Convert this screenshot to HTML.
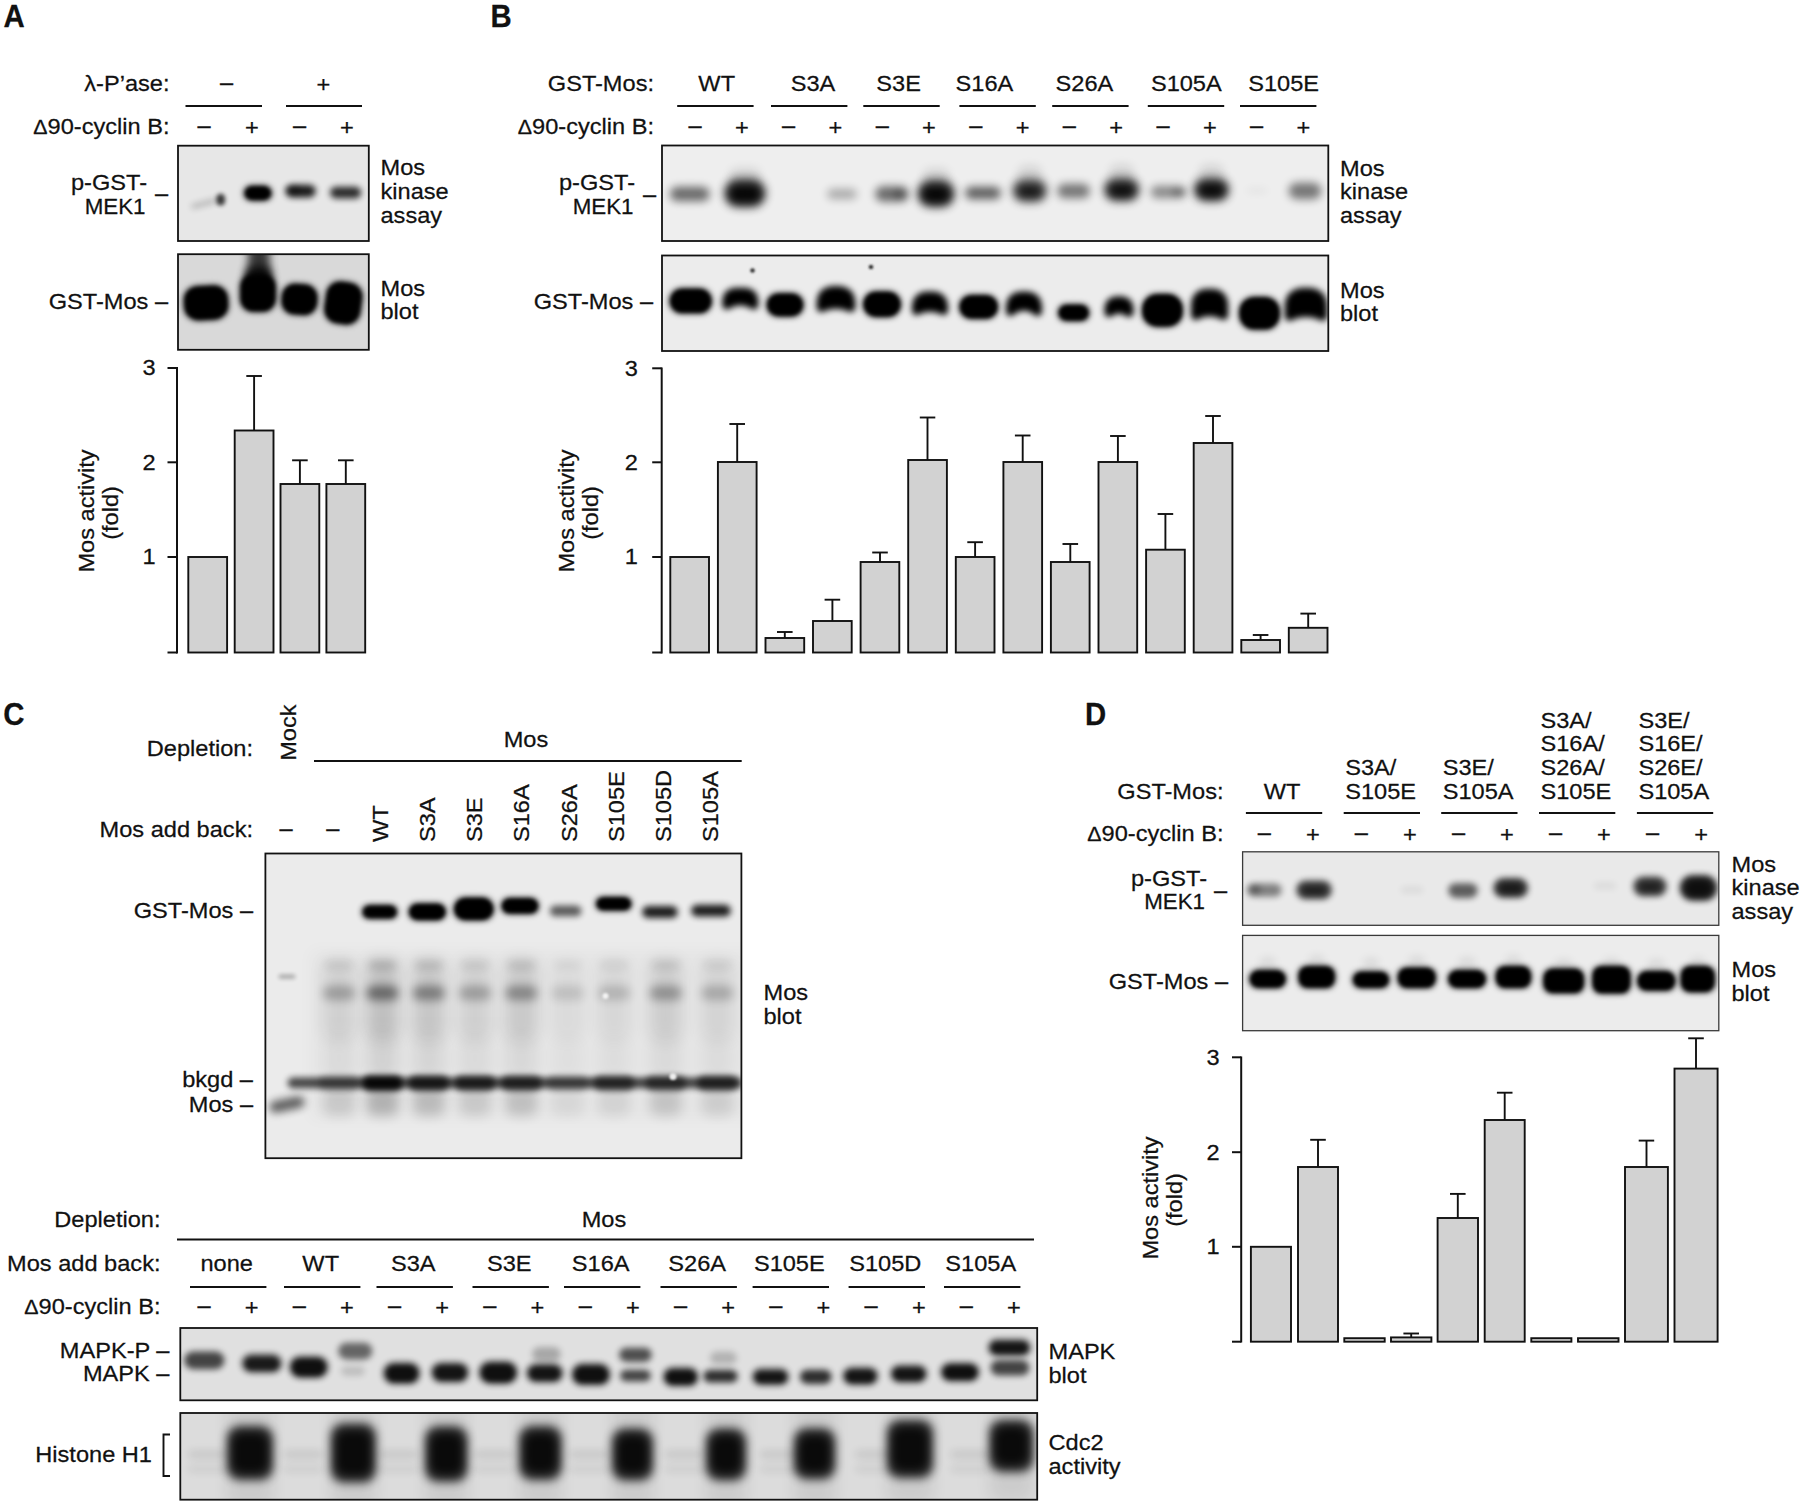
<!DOCTYPE html>
<html lang="en"><head><meta charset="utf-8"><title>Figure</title>
<style>html,body{margin:0;padding:0;background:#fff}svg{display:block}text{font-family:"Liberation Sans",sans-serif;fill:#111;stroke:#111;stroke-width:.25px}</style>
</head><body>
<svg width="1800" height="1506" viewBox="0 0 1800 1506">
<defs>
<filter id="b1" x="-100%" y="-300%" width="300%" height="700%"><feGaussianBlur stdDeviation="1"/></filter>
<filter id="b2" x="-100%" y="-300%" width="300%" height="700%"><feGaussianBlur stdDeviation="2"/></filter>
<filter id="b3" x="-100%" y="-300%" width="300%" height="700%"><feGaussianBlur stdDeviation="3"/></filter>
<filter id="b4" x="-100%" y="-300%" width="300%" height="700%"><feGaussianBlur stdDeviation="4"/></filter>
<filter id="b5" x="-100%" y="-300%" width="300%" height="700%"><feGaussianBlur stdDeviation="5"/></filter>
<filter id="b6" x="-100%" y="-300%" width="300%" height="700%"><feGaussianBlur stdDeviation="6"/></filter>
<filter id="b8" x="-100%" y="-300%" width="300%" height="700%"><feGaussianBlur stdDeviation="8"/></filter>
</defs>
<rect width="1800" height="1506" fill="#fff"/>
<text transform="translate(3.6,26.7) scale(.95,1)" font-size="30.9" font-weight="bold" stroke="#0a0a0a" stroke-width="2.0" stroke-linejoin="round">A</text>
<text transform="translate(169.5,90.5) scale(1.04,1)" font-size="22.7" text-anchor="end">λ-P’ase:</text>
<text transform="translate(169.5,133.5) scale(1.04,1)" font-size="22.7" text-anchor="end"><tspan font-size="20.5">Δ</tspan>90-cyclin B:</text>
<text transform="translate(226.5,90.0) scale(1.04,1)" font-size="22.7" text-anchor="middle">–</text>
<text transform="translate(323.5,92.0) scale(1.04,1)" font-size="22.7" text-anchor="middle">+</text>
<line x1="185.5" y1="106.0" x2="262.0" y2="106.0" stroke="#111" stroke-width="1.9"/>
<line x1="286.0" y1="106.0" x2="362.0" y2="106.0" stroke="#111" stroke-width="1.9"/>
<text transform="translate(204.0,132.5) scale(1.04,1)" font-size="22.7" text-anchor="middle">–</text>
<text transform="translate(252.0,134.5) scale(1.04,1)" font-size="22.7" text-anchor="middle">+</text>
<text transform="translate(299.5,132.5) scale(1.04,1)" font-size="22.7" text-anchor="middle">–</text>
<text transform="translate(347.0,134.5) scale(1.04,1)" font-size="22.7" text-anchor="middle">+</text>
<text transform="translate(147.0,190.0) scale(1.04,1)" font-size="22.7" text-anchor="end">p-GST-</text>
<text transform="translate(145.5,213.5) scale(0.985,1)" font-size="22.7" text-anchor="end">MEK1</text>
<text transform="translate(161.5,201.0) scale(1.04,1)" font-size="22.7" text-anchor="middle">–</text>
<text transform="translate(168.0,309.0) scale(1.04,1)" font-size="22.7" text-anchor="end">GST-Mos –</text>
<text transform="translate(380.5,175.3) scale(1.04,1)" font-size="22.7">Mos</text>
<text transform="translate(380.5,198.8) scale(1.04,1)" font-size="22.7">kinase</text>
<text transform="translate(380.5,222.6) scale(1.04,1)" font-size="22.7">assay</text>
<text transform="translate(380.5,296.3) scale(1.04,1)" font-size="22.7">Mos</text>
<text transform="translate(380.5,319.4) scale(1.04,1)" font-size="22.7">blot</text>
<clipPath id="c1"><rect x="178.0" y="145.7" width="190.8" height="95.3"/></clipPath>
<rect x="178.0" y="145.7" width="190.8" height="95.3" fill="#e7e7e7"/>
<g clip-path="url(#c1)">
<rect x="190.7" y="201.2" width="26.7" height="4.7" rx="2.3" fill="#000" opacity="0.22" filter="url(#b3)" transform="rotate(-15 204.0 203.5)"/>
<rect x="216.3" y="193.7" width="8.8" height="11.8" rx="4.4" fill="#000" opacity="0.75" filter="url(#b2)"/>
<rect x="243.8" y="185.8" width="28.1" height="14.7" rx="7.3" fill="#000" opacity="1" filter="url(#b3)"/>
<rect x="245.8" y="187.3" width="24.1" height="11.7" rx="5.8" fill="#000" opacity="1" filter="url(#b2)"/>
<rect x="285.5" y="184.7" width="30.2" height="12.7" rx="6.3" fill="#000" opacity="0.88" filter="url(#b3)"/>
<rect x="287.6" y="187.2" width="12.7" height="5.7" rx="2.8" fill="#000" opacity="0.4" filter="url(#b3)"/>
<rect x="330.0" y="186.7" width="31.2" height="11.7" rx="5.8" fill="#000" opacity="0.82" filter="url(#b3)"/>
</g>
<rect x="178.0" y="145.7" width="190.8" height="95.3" fill="none" stroke="#111" stroke-width="1.8"/>
<clipPath id="c2"><rect x="178.0" y="254.2" width="190.8" height="95.6"/></clipPath>
<rect x="178.0" y="254.2" width="190.8" height="95.6" fill="#d9d9d9"/>
<g clip-path="url(#c2)">
<rect x="183.7" y="285.7" width="44.7" height="34.2" rx="14.0" fill="#000" opacity="1" filter="url(#b3)" transform="rotate(-3 206.0 302.8)"/>
<rect x="185.7" y="287.2" width="40.7" height="31.2" rx="12.5" fill="#000" opacity="1" filter="url(#b2)" transform="rotate(-3 206.0 302.8)"/>
<rect x="248.1" y="244.2" width="21.6" height="35.6" rx="6.0" fill="#000" opacity="0.75" filter="url(#b4)"/>
<rect x="244.7" y="266.2" width="27.6" height="19.6" rx="8.0" fill="#000" opacity="0.8" filter="url(#b4)"/>
<rect x="239.9" y="274.1" width="36.2" height="37.7" rx="13.0" fill="#000" opacity="1" filter="url(#b3)"/>
<rect x="241.9" y="275.6" width="32.2" height="34.7" rx="11.5" fill="#000" opacity="1" filter="url(#b2)"/>
<rect x="281.4" y="284.1" width="36.2" height="30.7" rx="13.0" fill="#000" opacity="1" filter="url(#b3)" transform="rotate(4 299.5 299.5)"/>
<rect x="283.4" y="285.6" width="32.2" height="27.7" rx="11.5" fill="#000" opacity="1" filter="url(#b2)" transform="rotate(4 299.5 299.5)"/>
<rect x="325.0" y="281.9" width="36.7" height="42.2" rx="14.0" fill="#000" opacity="1" filter="url(#b3)" transform="rotate(8 343.4 303.0)"/>
<rect x="327.0" y="283.4" width="32.7" height="39.2" rx="12.5" fill="#000" opacity="1" filter="url(#b2)" transform="rotate(8 343.4 303.0)"/>
</g>
<rect x="178.0" y="254.2" width="190.8" height="95.6" fill="none" stroke="#111" stroke-width="1.8"/>
<line x1="177.0" y1="367.1" x2="177.0" y2="653.4" stroke="#111" stroke-width="2.0"/>
<line x1="167.5" y1="368.0" x2="177.0" y2="368.0" stroke="#111" stroke-width="2.0"/>
<text transform="translate(155.5,375.4) scale(1.04,1)" font-size="22.7" text-anchor="end">3</text>
<line x1="167.5" y1="462.3" x2="177.0" y2="462.3" stroke="#111" stroke-width="2.0"/>
<text transform="translate(155.5,469.7) scale(1.04,1)" font-size="22.7" text-anchor="end">2</text>
<line x1="167.5" y1="557.0" x2="177.0" y2="557.0" stroke="#111" stroke-width="2.0"/>
<text transform="translate(155.5,564.4) scale(1.04,1)" font-size="22.7" text-anchor="end">1</text>
<line x1="167.5" y1="652.5" x2="177.0" y2="652.5" stroke="#111" stroke-width="2.0"/>
<rect x="188.3" y="557.0" width="38.8" height="95.5" fill="#d2d2d2" stroke="#111" stroke-width="1.9"/>
<line x1="254.1" y1="376.0" x2="254.1" y2="430.5" stroke="#111" stroke-width="1.9"/>
<line x1="246.3" y1="376.0" x2="261.9" y2="376.0" stroke="#111" stroke-width="1.9"/>
<rect x="234.7" y="430.5" width="38.8" height="222.0" fill="#d2d2d2" stroke="#111" stroke-width="1.9"/>
<line x1="299.9" y1="460.3" x2="299.9" y2="484.0" stroke="#111" stroke-width="1.9"/>
<line x1="292.1" y1="460.3" x2="307.7" y2="460.3" stroke="#111" stroke-width="1.9"/>
<rect x="280.5" y="484.0" width="38.8" height="168.5" fill="#d2d2d2" stroke="#111" stroke-width="1.9"/>
<line x1="345.8" y1="460.3" x2="345.8" y2="484.0" stroke="#111" stroke-width="1.9"/>
<line x1="338.0" y1="460.3" x2="353.6" y2="460.3" stroke="#111" stroke-width="1.9"/>
<rect x="326.4" y="484.0" width="38.8" height="168.5" fill="#d2d2d2" stroke="#111" stroke-width="1.9"/>
<text transform="translate(94.0,511.0) rotate(-90) scale(1.04,1)" font-size="22.7" text-anchor="middle">Mos activity</text>
<text transform="translate(117.5,513.0) rotate(-90) scale(1.04,1)" font-size="22.7" text-anchor="middle">(fold)</text>
<text transform="translate(490.6,26.5) scale(.95,1)" font-size="30.9" font-weight="bold" stroke="#0a0a0a" stroke-width="2.0" stroke-linejoin="round">B</text>
<text transform="translate(654.0,90.5) scale(1.04,1)" font-size="22.7" text-anchor="end">GST-Mos:</text>
<text transform="translate(654.0,133.5) scale(1.04,1)" font-size="22.7" text-anchor="end"><tspan font-size="20.5">Δ</tspan>90-cyclin B:</text>
<line x1="677.2" y1="106.0" x2="753.6" y2="106.0" stroke="#111" stroke-width="1.9"/>
<text transform="translate(716.7,90.5) scale(1.04,1)" font-size="22.7" text-anchor="middle">WT</text>
<line x1="771.0" y1="106.0" x2="847.4" y2="106.0" stroke="#111" stroke-width="1.9"/>
<text transform="translate(813.0,90.5) scale(1.04,1)" font-size="22.7" text-anchor="middle">S3A</text>
<line x1="863.3" y1="106.0" x2="939.7" y2="106.0" stroke="#111" stroke-width="1.9"/>
<text transform="translate(898.6,90.5) scale(1.04,1)" font-size="22.7" text-anchor="middle">S3E</text>
<line x1="959.4" y1="106.0" x2="1035.8" y2="106.0" stroke="#111" stroke-width="1.9"/>
<text transform="translate(984.4,90.5) scale(1.04,1)" font-size="22.7" text-anchor="middle">S16A</text>
<line x1="1052.2" y1="106.0" x2="1128.6" y2="106.0" stroke="#111" stroke-width="1.9"/>
<text transform="translate(1084.4,90.5) scale(1.04,1)" font-size="22.7" text-anchor="middle">S26A</text>
<line x1="1147.8" y1="106.0" x2="1224.2" y2="106.0" stroke="#111" stroke-width="1.9"/>
<text transform="translate(1186.3,90.5) scale(1.04,1)" font-size="22.7" text-anchor="middle">S105A</text>
<line x1="1240.0" y1="106.0" x2="1316.4" y2="106.0" stroke="#111" stroke-width="1.9"/>
<text transform="translate(1283.6,90.5) scale(1.04,1)" font-size="22.7" text-anchor="middle">S105E</text>
<text transform="translate(695.0,132.5) scale(1.04,1)" font-size="22.7" text-anchor="middle">–</text>
<text transform="translate(741.8,134.5) scale(1.04,1)" font-size="22.7" text-anchor="middle">+</text>
<text transform="translate(788.6,132.5) scale(1.04,1)" font-size="22.7" text-anchor="middle">–</text>
<text transform="translate(835.4,134.5) scale(1.04,1)" font-size="22.7" text-anchor="middle">+</text>
<text transform="translate(882.2,132.5) scale(1.04,1)" font-size="22.7" text-anchor="middle">–</text>
<text transform="translate(929.0,134.5) scale(1.04,1)" font-size="22.7" text-anchor="middle">+</text>
<text transform="translate(975.8,132.5) scale(1.04,1)" font-size="22.7" text-anchor="middle">–</text>
<text transform="translate(1022.6,134.5) scale(1.04,1)" font-size="22.7" text-anchor="middle">+</text>
<text transform="translate(1069.4,132.5) scale(1.04,1)" font-size="22.7" text-anchor="middle">–</text>
<text transform="translate(1116.2,134.5) scale(1.04,1)" font-size="22.7" text-anchor="middle">+</text>
<text transform="translate(1163.0,132.5) scale(1.04,1)" font-size="22.7" text-anchor="middle">–</text>
<text transform="translate(1209.8,134.5) scale(1.04,1)" font-size="22.7" text-anchor="middle">+</text>
<text transform="translate(1256.6,132.5) scale(1.04,1)" font-size="22.7" text-anchor="middle">–</text>
<text transform="translate(1303.4,134.5) scale(1.04,1)" font-size="22.7" text-anchor="middle">+</text>
<text transform="translate(635.0,190.0) scale(1.04,1)" font-size="22.7" text-anchor="end">p-GST-</text>
<text transform="translate(633.5,213.5) scale(0.985,1)" font-size="22.7" text-anchor="end">MEK1</text>
<text transform="translate(649.5,201.5) scale(1.04,1)" font-size="22.7" text-anchor="middle">–</text>
<text transform="translate(653.0,309.0) scale(1.04,1)" font-size="22.7" text-anchor="end">GST-Mos –</text>
<text transform="translate(1340.0,175.5) scale(1.04,1)" font-size="22.7">Mos</text>
<text transform="translate(1340.0,198.9) scale(1.04,1)" font-size="22.7">kinase</text>
<text transform="translate(1340.0,222.8) scale(1.04,1)" font-size="22.7">assay</text>
<text transform="translate(1340.0,298.3) scale(1.04,1)" font-size="22.7">Mos</text>
<text transform="translate(1340.0,321.4) scale(1.04,1)" font-size="22.7">blot</text>
<clipPath id="c3"><rect x="662.0" y="145.5" width="666.3" height="95.5"/></clipPath>
<rect x="662.0" y="145.5" width="666.3" height="95.5" fill="#eeeeee"/>
<g clip-path="url(#c3)">
<rect x="670.0" y="186.7" width="39.6" height="14.6" rx="7.3" fill="#000" opacity="0.55" filter="url(#b4)"/>
<rect x="724.2" y="178.8" width="41.5" height="28.5" rx="14.2" fill="#000" opacity="0.78" filter="url(#b5)"/>
<rect x="729.7" y="186.2" width="30.6" height="15.6" rx="7.8" fill="#000" opacity="0.9" filter="url(#b4)"/>
<rect x="729.2" y="167.8" width="31.5" height="16.5" rx="8.2" fill="#000" opacity="0.1" filter="url(#b5)"/>
<rect x="827.2" y="188.7" width="29.6" height="10.6" rx="5.3" fill="#000" opacity="0.28" filter="url(#b4)"/>
<rect x="875.2" y="186.2" width="33.6" height="15.6" rx="7.8" fill="#000" opacity="0.55" filter="url(#b4)"/>
<rect x="917.5" y="179.8" width="37.1" height="27.5" rx="13.8" fill="#000" opacity="0.78" filter="url(#b5)"/>
<rect x="922.9" y="187.2" width="26.2" height="14.6" rx="7.3" fill="#000" opacity="0.9" filter="url(#b4)"/>
<rect x="922.5" y="168.2" width="27.1" height="16.5" rx="8.2" fill="#000" opacity="0.1" filter="url(#b5)"/>
<rect x="965.2" y="186.7" width="35.6" height="12.6" rx="6.3" fill="#000" opacity="0.6" filter="url(#b4)"/>
<rect x="1012.5" y="178.8" width="34.5" height="23.5" rx="11.8" fill="#000" opacity="0.663" filter="url(#b5)"/>
<rect x="1017.9" y="186.2" width="23.6" height="10.6" rx="5.3" fill="#000" opacity="0.765" filter="url(#b4)"/>
<rect x="1017.5" y="165.2" width="24.5" height="16.5" rx="8.2" fill="#000" opacity="0.1" filter="url(#b5)"/>
<rect x="1057.3" y="183.7" width="32.6" height="14.6" rx="7.3" fill="#000" opacity="0.5" filter="url(#b4)"/>
<rect x="1104.1" y="177.8" width="35.2" height="23.5" rx="11.8" fill="#000" opacity="0.741" filter="url(#b5)"/>
<rect x="1109.5" y="185.3" width="24.3" height="10.6" rx="5.3" fill="#000" opacity="0.855" filter="url(#b4)"/>
<rect x="1109.1" y="164.3" width="25.2" height="16.5" rx="8.2" fill="#000" opacity="0.1" filter="url(#b5)"/>
<rect x="1150.8" y="185.7" width="35.3" height="12.6" rx="6.3" fill="#000" opacity="0.42" filter="url(#b4)"/>
<rect x="1193.9" y="177.8" width="35.2" height="23.5" rx="11.8" fill="#000" opacity="0.78" filter="url(#b5)"/>
<rect x="1199.3" y="185.3" width="24.3" height="10.6" rx="5.3" fill="#000" opacity="0.9" filter="url(#b4)"/>
<rect x="1198.9" y="164.3" width="25.2" height="16.5" rx="8.2" fill="#000" opacity="0.1" filter="url(#b5)"/>
<rect x="1246.7" y="188.8" width="20.6" height="3.6" rx="1.8" fill="#000" opacity="0.07" filter="url(#b4)"/>
<rect x="1288.7" y="182.7" width="32.6" height="16.6" rx="8.3" fill="#000" opacity="0.5" filter="url(#b4)"/>
<rect x="892.6" y="189.7" width="12.7" height="8.7" rx="4.3" fill="#000" opacity="0.2" filter="url(#b3)"/>
<rect x="1171.7" y="188.7" width="12.7" height="6.7" rx="3.3" fill="#000" opacity="0.2" filter="url(#b3)"/>
</g>
<rect x="662.0" y="145.5" width="666.3" height="95.5" fill="none" stroke="#111" stroke-width="1.8"/>
<clipPath id="c4"><rect x="662.0" y="255.5" width="666.3" height="95.5"/></clipPath>
<rect x="662.0" y="255.5" width="666.3" height="95.5" fill="#ececec"/>
<g clip-path="url(#c4)">
<rect x="669.4" y="288.6" width="42.7" height="24.7" rx="12.3" fill="#000" opacity="1" filter="url(#b3)"/>
<rect x="671.4" y="290.1" width="38.7" height="21.7" rx="10.8" fill="#000" opacity="1" filter="url(#b2)"/>
<path d="M726.7,305.0 L726.7,302.4 Q726.7,292.2 736.9,292.2 L743.7,292.2 Q753.9,292.2 753.9,302.4 L753.9,305.0 Q740.3,296.2 726.7,305.0 Z" fill="#000" stroke="#000" stroke-width="9.0" stroke-linejoin="round" opacity="1" filter="url(#b3)"/>
<rect x="766.4" y="293.2" width="37.3" height="23.2" rx="11.6" fill="#000" opacity="1" filter="url(#b3)"/>
<rect x="768.4" y="294.7" width="33.3" height="20.2" rx="10.1" fill="#000" opacity="1" filter="url(#b2)"/>
<path d="M821.1,307.6 L821.1,303.8 Q821.1,290.4 834.5,290.4 L837.5,290.4 Q850.9,290.4 850.9,303.8 L850.9,307.6 Q836.0,301.0 821.1,307.6 Z" fill="#000" stroke="#000" stroke-width="9.0" stroke-linejoin="round" opacity="1" filter="url(#b3)"/>
<rect x="862.9" y="291.4" width="38.2" height="25.7" rx="12.8" fill="#000" opacity="1" filter="url(#b3)"/>
<rect x="864.9" y="292.9" width="34.2" height="22.7" rx="11.3" fill="#000" opacity="1" filter="url(#b2)"/>
<path d="M916.4,310.6 L916.4,307.7 Q916.4,296.0 928.1,296.0 L931.9,296.0 Q943.6,296.0 943.6,307.7 L943.6,310.6 Q930.0,303.6 916.4,310.6 Z" fill="#000" stroke="#000" stroke-width="9.0" stroke-linejoin="round" opacity="1" filter="url(#b3)"/>
<rect x="959.1" y="295.1" width="39.2" height="23.7" rx="11.8" fill="#000" opacity="1" filter="url(#b3)"/>
<rect x="961.1" y="296.6" width="35.2" height="20.7" rx="10.3" fill="#000" opacity="1" filter="url(#b2)"/>
<path d="M1010.4,311.6 L1010.4,308.2 Q1010.4,296.0 1022.6,296.0 L1025.4,296.0 Q1037.6,296.0 1037.6,308.2 L1037.6,311.6 Q1024.0,300.8 1010.4,311.6 Z" fill="#000" stroke="#000" stroke-width="9.0" stroke-linejoin="round" opacity="1" filter="url(#b3)"/>
<rect x="1057.8" y="304.4" width="31.7" height="16.7" rx="8.3" fill="#000" opacity="1" filter="url(#b3)"/>
<rect x="1059.8" y="305.9" width="27.7" height="13.7" rx="6.8" fill="#000" opacity="1" filter="url(#b2)"/>
<path d="M1108.9,312.6 L1108.9,309.8 Q1108.9,300.7 1118.0,300.7 L1120.0,300.7 Q1129.1,300.7 1129.1,309.8 L1129.1,312.6 Q1119.0,305.4 1108.9,312.6 Z" fill="#000" stroke="#000" stroke-width="9.0" stroke-linejoin="round" opacity="1" filter="url(#b3)"/>
<rect x="1141.9" y="294.0" width="41.1" height="32.7" rx="15.0" fill="#000" opacity="1" filter="url(#b3)"/>
<rect x="1143.9" y="295.5" width="37.1" height="29.7" rx="13.5" fill="#000" opacity="1" filter="url(#b2)"/>
<path d="M1195.5,315.4 L1195.5,305.9 Q1195.5,293.2 1208.2,293.2 L1211.0,293.2 Q1223.7,293.2 1223.7,305.9 L1223.7,315.4 Q1209.6,308.2 1195.5,315.4 Z" fill="#000" stroke="#000" stroke-width="9.0" stroke-linejoin="round" opacity="1" filter="url(#b3)"/>
<rect x="1239.0" y="296.9" width="41.1" height="32.7" rx="15.0" fill="#000" opacity="1" filter="url(#b3)"/>
<rect x="1241.0" y="298.4" width="37.1" height="29.7" rx="13.5" fill="#000" opacity="1" filter="url(#b2)"/>
<path d="M1289.2,316.4 L1289.2,307.4 Q1289.2,292.2 1304.3,292.2 L1307.7,292.2 Q1322.8,292.2 1322.8,307.4 L1322.8,316.4 Q1306.0,308.8 1289.2,316.4 Z" fill="#000" stroke="#000" stroke-width="9.0" stroke-linejoin="round" opacity="1" filter="url(#b3)"/>
<circle cx="752.5" cy="270.5" r="2.3" fill="#333" filter="url(#b1)"/><circle cx="871" cy="267" r="2.3" fill="#333" filter="url(#b1)"/>
</g>
<rect x="662.0" y="255.5" width="666.3" height="95.5" fill="none" stroke="#111" stroke-width="1.8"/>
<line x1="661.7" y1="367.4" x2="661.7" y2="653.4" stroke="#111" stroke-width="2.0"/>
<line x1="652.2" y1="368.3" x2="661.7" y2="368.3" stroke="#111" stroke-width="2.0"/>
<text transform="translate(637.9,375.7) scale(1.04,1)" font-size="22.7" text-anchor="end">3</text>
<line x1="652.2" y1="462.3" x2="661.7" y2="462.3" stroke="#111" stroke-width="2.0"/>
<text transform="translate(637.9,469.7) scale(1.04,1)" font-size="22.7" text-anchor="end">2</text>
<line x1="652.2" y1="557.0" x2="661.7" y2="557.0" stroke="#111" stroke-width="2.0"/>
<text transform="translate(637.9,564.4) scale(1.04,1)" font-size="22.7" text-anchor="end">1</text>
<line x1="652.2" y1="652.5" x2="661.7" y2="652.5" stroke="#111" stroke-width="2.0"/>
<rect x="670.3" y="557.0" width="38.7" height="95.5" fill="#d2d2d2" stroke="#111" stroke-width="1.9"/>
<line x1="737.2" y1="424.0" x2="737.2" y2="462.0" stroke="#111" stroke-width="1.9"/>
<line x1="729.4" y1="424.0" x2="745.0" y2="424.0" stroke="#111" stroke-width="1.9"/>
<rect x="717.9" y="462.0" width="38.7" height="190.5" fill="#d2d2d2" stroke="#111" stroke-width="1.9"/>
<line x1="784.8" y1="632.0" x2="784.8" y2="638.0" stroke="#111" stroke-width="1.9"/>
<line x1="777.0" y1="632.0" x2="792.6" y2="632.0" stroke="#111" stroke-width="1.9"/>
<rect x="765.5" y="638.0" width="38.7" height="14.5" fill="#d2d2d2" stroke="#111" stroke-width="1.9"/>
<line x1="832.4" y1="599.7" x2="832.4" y2="621.0" stroke="#111" stroke-width="1.9"/>
<line x1="824.6" y1="599.7" x2="840.2" y2="599.7" stroke="#111" stroke-width="1.9"/>
<rect x="813.0" y="621.0" width="38.7" height="31.5" fill="#d2d2d2" stroke="#111" stroke-width="1.9"/>
<line x1="880.0" y1="552.5" x2="880.0" y2="562.0" stroke="#111" stroke-width="1.9"/>
<line x1="872.2" y1="552.5" x2="887.8" y2="552.5" stroke="#111" stroke-width="1.9"/>
<rect x="860.6" y="562.0" width="38.7" height="90.5" fill="#d2d2d2" stroke="#111" stroke-width="1.9"/>
<line x1="927.5" y1="417.5" x2="927.5" y2="460.0" stroke="#111" stroke-width="1.9"/>
<line x1="919.8" y1="417.5" x2="935.3" y2="417.5" stroke="#111" stroke-width="1.9"/>
<rect x="908.2" y="460.0" width="38.7" height="192.5" fill="#d2d2d2" stroke="#111" stroke-width="1.9"/>
<line x1="975.1" y1="542.2" x2="975.1" y2="557.0" stroke="#111" stroke-width="1.9"/>
<line x1="967.3" y1="542.2" x2="982.9" y2="542.2" stroke="#111" stroke-width="1.9"/>
<rect x="955.8" y="557.0" width="38.7" height="95.5" fill="#d2d2d2" stroke="#111" stroke-width="1.9"/>
<line x1="1022.7" y1="435.5" x2="1022.7" y2="462.0" stroke="#111" stroke-width="1.9"/>
<line x1="1014.9" y1="435.5" x2="1030.5" y2="435.5" stroke="#111" stroke-width="1.9"/>
<rect x="1003.4" y="462.0" width="38.7" height="190.5" fill="#d2d2d2" stroke="#111" stroke-width="1.9"/>
<line x1="1070.3" y1="544.0" x2="1070.3" y2="562.0" stroke="#111" stroke-width="1.9"/>
<line x1="1062.5" y1="544.0" x2="1078.1" y2="544.0" stroke="#111" stroke-width="1.9"/>
<rect x="1050.9" y="562.0" width="38.7" height="90.5" fill="#d2d2d2" stroke="#111" stroke-width="1.9"/>
<line x1="1117.9" y1="436.0" x2="1117.9" y2="462.0" stroke="#111" stroke-width="1.9"/>
<line x1="1110.1" y1="436.0" x2="1125.7" y2="436.0" stroke="#111" stroke-width="1.9"/>
<rect x="1098.5" y="462.0" width="38.7" height="190.5" fill="#d2d2d2" stroke="#111" stroke-width="1.9"/>
<line x1="1165.4" y1="514.0" x2="1165.4" y2="549.7" stroke="#111" stroke-width="1.9"/>
<line x1="1157.6" y1="514.0" x2="1173.2" y2="514.0" stroke="#111" stroke-width="1.9"/>
<rect x="1146.1" y="549.7" width="38.7" height="102.8" fill="#d2d2d2" stroke="#111" stroke-width="1.9"/>
<line x1="1213.0" y1="416.0" x2="1213.0" y2="443.0" stroke="#111" stroke-width="1.9"/>
<line x1="1205.2" y1="416.0" x2="1220.8" y2="416.0" stroke="#111" stroke-width="1.9"/>
<rect x="1193.7" y="443.0" width="38.7" height="209.5" fill="#d2d2d2" stroke="#111" stroke-width="1.9"/>
<line x1="1260.6" y1="635.0" x2="1260.6" y2="640.0" stroke="#111" stroke-width="1.9"/>
<line x1="1252.8" y1="635.0" x2="1268.4" y2="635.0" stroke="#111" stroke-width="1.9"/>
<rect x="1241.3" y="640.0" width="38.7" height="12.5" fill="#d2d2d2" stroke="#111" stroke-width="1.9"/>
<line x1="1308.2" y1="613.6" x2="1308.2" y2="627.8" stroke="#111" stroke-width="1.9"/>
<line x1="1300.4" y1="613.6" x2="1316.0" y2="613.6" stroke="#111" stroke-width="1.9"/>
<rect x="1288.8" y="627.8" width="38.7" height="24.7" fill="#d2d2d2" stroke="#111" stroke-width="1.9"/>
<text transform="translate(574.0,511.0) rotate(-90) scale(1.04,1)" font-size="22.7" text-anchor="middle">Mos activity</text>
<text transform="translate(598.0,513.0) rotate(-90) scale(1.04,1)" font-size="22.7" text-anchor="middle">(fold)</text>
<text transform="translate(3.3,725.1) scale(.95,1)" font-size="30.9" font-weight="bold" stroke="#0a0a0a" stroke-width="2.0" stroke-linejoin="round">C</text>
<text transform="translate(253.0,756.0) scale(1.04,1)" font-size="22.7" text-anchor="end">Depletion:</text>
<text transform="translate(253.0,836.5) scale(1.04,1)" font-size="22.7" text-anchor="end">Mos add back:</text>
<text transform="translate(295.5,760.8) rotate(-90) scale(1.04,1)" font-size="22.7">Mock</text>
<line x1="314.0" y1="761.0" x2="741.7" y2="761.0" stroke="#111" stroke-width="1.9"/>
<text transform="translate(526.0,746.5) scale(1.04,1)" font-size="22.7" text-anchor="middle">Mos</text>
<text transform="translate(286.0,836.0) scale(1.04,1)" font-size="22.7" text-anchor="middle">–</text>
<text transform="translate(332.8,836.0) scale(1.04,1)" font-size="22.7" text-anchor="middle">–</text>
<text transform="translate(387.5,842.0) rotate(-90) scale(1.04,1)" font-size="22.7">WT</text>
<text transform="translate(434.5,842.0) rotate(-90) scale(1.04,1)" font-size="22.7">S3A</text>
<text transform="translate(482.1,842.0) rotate(-90) scale(1.04,1)" font-size="22.7">S3E</text>
<text transform="translate(529.3,842.0) rotate(-90) scale(1.04,1)" font-size="22.7">S16A</text>
<text transform="translate(576.5,842.0) rotate(-90) scale(1.04,1)" font-size="22.7">S26A</text>
<text transform="translate(623.5,842.0) rotate(-90) scale(1.04,1)" font-size="22.7">S105E</text>
<text transform="translate(671.0,842.0) rotate(-90) scale(1.04,1)" font-size="22.7">S105D</text>
<text transform="translate(718.2,842.0) rotate(-90) scale(1.04,1)" font-size="22.7">S105A</text>
<text transform="translate(253.0,917.8) scale(1.04,1)" font-size="22.7" text-anchor="end">GST-Mos –</text>
<text transform="translate(253.0,1086.8) scale(1.04,1)" font-size="22.7" text-anchor="end">bkgd –</text>
<text transform="translate(253.0,1111.7) scale(1.04,1)" font-size="22.7" text-anchor="end">Mos –</text>
<text transform="translate(763.5,1000.0) scale(1.04,1)" font-size="22.7">Mos</text>
<text transform="translate(763.5,1023.5) scale(1.04,1)" font-size="22.7">blot</text>
<clipPath id="c5"><rect x="265.4" y="853.5" width="476.0" height="304.7"/></clipPath>
<rect x="265.4" y="853.5" width="476.0" height="304.7" fill="#ebebeb"/>
<g clip-path="url(#c5)">
<rect x="310" y="950" width="440" height="170" fill="#000" opacity=".022" filter="url(#b8)"/>
<rect x="323.4" y="959.4" width="31.2" height="81.2" rx="8.0" fill="#000" opacity="0.09" filter="url(#b8)"/>
<rect x="322.8" y="985.8" width="32.5" height="14.5" rx="7.2" fill="#000" opacity="0.255" filter="url(#b5)"/>
<rect x="325.2" y="961.2" width="27.6" height="7.6" rx="3.8" fill="#000" opacity="0.09" filter="url(#b4)"/>
<rect x="325.4" y="1037.4" width="27.2" height="41.2" rx="8.0" fill="#000" opacity="0.045" filter="url(#b8)"/>
<rect x="323.3" y="1088.3" width="31.4" height="27.4" rx="8.0" fill="#000" opacity="0.12" filter="url(#b6)"/>
<rect x="366.9" y="959.4" width="31.2" height="81.2" rx="8.0" fill="#000" opacity="0.165" filter="url(#b8)"/>
<rect x="366.2" y="985.8" width="32.5" height="14.5" rx="7.2" fill="#000" opacity="0.4675" filter="url(#b5)"/>
<rect x="368.7" y="961.2" width="27.6" height="7.6" rx="3.8" fill="#000" opacity="0.165" filter="url(#b4)"/>
<rect x="368.9" y="1037.4" width="27.2" height="41.2" rx="8.0" fill="#000" opacity="0.0825" filter="url(#b8)"/>
<rect x="366.8" y="1088.3" width="31.4" height="27.4" rx="8.0" fill="#000" opacity="0.22000000000000003" filter="url(#b6)"/>
<rect x="413.2" y="959.4" width="31.2" height="81.2" rx="8.0" fill="#000" opacity="0.135" filter="url(#b8)"/>
<rect x="412.6" y="985.8" width="32.5" height="14.5" rx="7.2" fill="#000" opacity="0.3825" filter="url(#b5)"/>
<rect x="415.0" y="961.2" width="27.6" height="7.6" rx="3.8" fill="#000" opacity="0.135" filter="url(#b4)"/>
<rect x="415.2" y="1037.4" width="27.2" height="41.2" rx="8.0" fill="#000" opacity="0.0675" filter="url(#b8)"/>
<rect x="413.1" y="1088.3" width="31.4" height="27.4" rx="8.0" fill="#000" opacity="0.18000000000000002" filter="url(#b6)"/>
<rect x="459.4" y="959.4" width="31.2" height="81.2" rx="8.0" fill="#000" opacity="0.09" filter="url(#b8)"/>
<rect x="458.8" y="985.8" width="32.5" height="14.5" rx="7.2" fill="#000" opacity="0.255" filter="url(#b5)"/>
<rect x="461.2" y="961.2" width="27.6" height="7.6" rx="3.8" fill="#000" opacity="0.09" filter="url(#b4)"/>
<rect x="461.4" y="1037.4" width="27.2" height="41.2" rx="8.0" fill="#000" opacity="0.045" filter="url(#b8)"/>
<rect x="459.3" y="1088.3" width="31.4" height="27.4" rx="8.0" fill="#000" opacity="0.12" filter="url(#b6)"/>
<rect x="505.8" y="959.4" width="31.2" height="81.2" rx="8.0" fill="#000" opacity="0.12" filter="url(#b8)"/>
<rect x="505.1" y="985.8" width="32.5" height="14.5" rx="7.2" fill="#000" opacity="0.34" filter="url(#b5)"/>
<rect x="507.6" y="961.2" width="27.6" height="7.6" rx="3.8" fill="#000" opacity="0.12" filter="url(#b4)"/>
<rect x="507.8" y="1037.4" width="27.2" height="41.2" rx="8.0" fill="#000" opacity="0.06" filter="url(#b8)"/>
<rect x="505.7" y="1088.3" width="31.4" height="27.4" rx="8.0" fill="#000" opacity="0.16000000000000003" filter="url(#b6)"/>
<rect x="552.0" y="959.4" width="31.2" height="81.2" rx="8.0" fill="#000" opacity="0.045" filter="url(#b8)"/>
<rect x="551.4" y="985.8" width="32.5" height="14.5" rx="7.2" fill="#000" opacity="0.1275" filter="url(#b5)"/>
<rect x="553.8" y="961.2" width="27.6" height="7.6" rx="3.8" fill="#000" opacity="0.045" filter="url(#b4)"/>
<rect x="554.0" y="1037.4" width="27.2" height="41.2" rx="8.0" fill="#000" opacity="0.0225" filter="url(#b8)"/>
<rect x="551.9" y="1088.3" width="31.4" height="27.4" rx="8.0" fill="#000" opacity="0.06" filter="url(#b6)"/>
<rect x="598.4" y="959.4" width="31.2" height="81.2" rx="8.0" fill="#000" opacity="0.06" filter="url(#b8)"/>
<rect x="597.8" y="985.8" width="32.5" height="14.5" rx="7.2" fill="#000" opacity="0.17" filter="url(#b5)"/>
<rect x="600.2" y="961.2" width="27.6" height="7.6" rx="3.8" fill="#000" opacity="0.06" filter="url(#b4)"/>
<rect x="600.4" y="1037.4" width="27.2" height="41.2" rx="8.0" fill="#000" opacity="0.03" filter="url(#b8)"/>
<rect x="598.3" y="1088.3" width="31.4" height="27.4" rx="8.0" fill="#000" opacity="0.08000000000000002" filter="url(#b6)"/>
<rect x="650.1" y="959.4" width="31.2" height="81.2" rx="8.0" fill="#000" opacity="0.105" filter="url(#b8)"/>
<rect x="649.5" y="985.8" width="32.5" height="14.5" rx="7.2" fill="#000" opacity="0.2975" filter="url(#b5)"/>
<rect x="651.9" y="961.2" width="27.6" height="7.6" rx="3.8" fill="#000" opacity="0.105" filter="url(#b4)"/>
<rect x="652.1" y="1037.4" width="27.2" height="41.2" rx="8.0" fill="#000" opacity="0.0525" filter="url(#b8)"/>
<rect x="650.0" y="1088.3" width="31.4" height="27.4" rx="8.0" fill="#000" opacity="0.13999999999999999" filter="url(#b6)"/>
<rect x="701.8" y="959.4" width="31.2" height="81.2" rx="8.0" fill="#000" opacity="0.075" filter="url(#b8)"/>
<rect x="701.1" y="985.8" width="32.5" height="14.5" rx="7.2" fill="#000" opacity="0.2125" filter="url(#b5)"/>
<rect x="703.6" y="961.2" width="27.6" height="7.6" rx="3.8" fill="#000" opacity="0.075" filter="url(#b4)"/>
<rect x="703.8" y="1037.4" width="27.2" height="41.2" rx="8.0" fill="#000" opacity="0.0375" filter="url(#b8)"/>
<rect x="701.7" y="1088.3" width="31.4" height="27.4" rx="8.0" fill="#000" opacity="0.1" filter="url(#b6)"/>
<rect x="278.6" y="974.7" width="16.8" height="3.8" rx="1.9" fill="#000" opacity="0.32" filter="url(#b2)"/>
<rect x="361.9" y="905.1" width="35.7" height="13.7" rx="6.8" fill="#000" opacity="0.95" filter="url(#b3)"/>
<rect x="363.9" y="906.6" width="31.7" height="10.7" rx="5.3" fill="#000" opacity="0.95" filter="url(#b2)"/>
<rect x="408.5" y="903.6" width="37.7" height="16.7" rx="8.3" fill="#000" opacity="1" filter="url(#b3)"/>
<rect x="410.5" y="905.1" width="33.7" height="13.7" rx="6.8" fill="#000" opacity="1" filter="url(#b2)"/>
<rect x="453.6" y="897.6" width="40.3" height="22.7" rx="11.3" fill="#000" opacity="1" filter="url(#b3)"/>
<rect x="455.6" y="899.1" width="36.3" height="19.7" rx="9.8" fill="#000" opacity="1" filter="url(#b2)"/>
<rect x="501.1" y="898.1" width="37.7" height="15.7" rx="7.8" fill="#000" opacity="1" filter="url(#b3)"/>
<rect x="503.1" y="899.6" width="33.7" height="12.7" rx="6.3" fill="#000" opacity="1" filter="url(#b2)"/>
<rect x="549.8" y="905.6" width="31.7" height="10.7" rx="5.3" fill="#000" opacity="0.62" filter="url(#b3)"/>
<rect x="595.6" y="896.9" width="36.2" height="13.7" rx="6.8" fill="#000" opacity="1" filter="url(#b3)"/>
<rect x="597.6" y="898.4" width="32.2" height="10.7" rx="5.3" fill="#000" opacity="1" filter="url(#b2)"/>
<rect x="642.1" y="905.9" width="35.7" height="12.2" rx="6.1" fill="#000" opacity="0.88" filter="url(#b3)"/>
<rect x="691.1" y="904.8" width="39.7" height="11.7" rx="5.8" fill="#000" opacity="0.88" filter="url(#b3)"/>
<rect x="287.6" y="1077.5" width="454.7" height="10.7" rx="5.3" fill="#000" opacity="0.7" filter="url(#b3)"/>
<rect x="318.6" y="1075.7" width="40.7" height="14.7" rx="7.3" fill="#000" opacity="0.25" filter="url(#b3)"/>
<rect x="362.1" y="1075.7" width="40.7" height="14.7" rx="7.3" fill="#000" opacity="0.9" filter="url(#b3)"/>
<rect x="408.4" y="1075.7" width="40.7" height="14.7" rx="7.3" fill="#000" opacity="0.7" filter="url(#b3)"/>
<rect x="454.6" y="1075.7" width="40.7" height="14.7" rx="7.3" fill="#000" opacity="0.65" filter="url(#b3)"/>
<rect x="501.0" y="1075.7" width="40.7" height="14.7" rx="7.3" fill="#000" opacity="0.6" filter="url(#b3)"/>
<rect x="547.2" y="1075.7" width="40.7" height="14.7" rx="7.3" fill="#000" opacity="0.25" filter="url(#b3)"/>
<rect x="593.6" y="1075.7" width="40.7" height="14.7" rx="7.3" fill="#000" opacity="0.55" filter="url(#b3)"/>
<rect x="645.4" y="1075.7" width="40.7" height="14.7" rx="7.3" fill="#000" opacity="0.5" filter="url(#b3)"/>
<rect x="697.0" y="1075.7" width="40.7" height="14.7" rx="7.3" fill="#000" opacity="0.6" filter="url(#b3)"/>
<rect x="269.2" y="1098.7" width="35.6" height="11.6" rx="5.8" fill="#000" opacity="0.62" filter="url(#b4)" transform="rotate(-12 287.0 1104.5)"/>
<circle cx="605.5" cy="996" r="3" fill="#f4f4f4" filter="url(#b1)"/><circle cx="673" cy="1076.5" r="3.5" fill="#eee" filter="url(#b1)"/>
</g>
<rect x="265.4" y="853.5" width="476.0" height="304.7" fill="none" stroke="#111" stroke-width="1.8"/>
<text transform="translate(160.5,1227.0) scale(1.04,1)" font-size="22.7" text-anchor="end">Depletion:</text>
<text transform="translate(160.5,1270.5) scale(1.04,1)" font-size="22.7" text-anchor="end">Mos add back:</text>
<text transform="translate(160.5,1313.5) scale(1.04,1)" font-size="22.7" text-anchor="end"><tspan font-size="20.5">Δ</tspan>90-cyclin B:</text>
<line x1="177.0" y1="1239.5" x2="1034.0" y2="1239.5" stroke="#111" stroke-width="1.9"/>
<text transform="translate(604.0,1227.0) scale(1.04,1)" font-size="22.7" text-anchor="middle">Mos</text>
<line x1="190.0" y1="1287.0" x2="266.4" y2="1287.0" stroke="#111" stroke-width="1.9"/>
<text transform="translate(226.7,1270.5) scale(1.04,1)" font-size="22.7" text-anchor="middle">none</text>
<line x1="284.0" y1="1287.0" x2="360.4" y2="1287.0" stroke="#111" stroke-width="1.9"/>
<text transform="translate(320.7,1270.5) scale(1.04,1)" font-size="22.7" text-anchor="middle">WT</text>
<line x1="376.5" y1="1287.0" x2="452.9" y2="1287.0" stroke="#111" stroke-width="1.9"/>
<text transform="translate(413.2,1270.5) scale(1.04,1)" font-size="22.7" text-anchor="middle">S3A</text>
<line x1="472.5" y1="1287.0" x2="548.9" y2="1287.0" stroke="#111" stroke-width="1.9"/>
<text transform="translate(509.2,1270.5) scale(1.04,1)" font-size="22.7" text-anchor="middle">S3E</text>
<line x1="564.0" y1="1287.0" x2="640.4" y2="1287.0" stroke="#111" stroke-width="1.9"/>
<text transform="translate(600.7,1270.5) scale(1.04,1)" font-size="22.7" text-anchor="middle">S16A</text>
<line x1="660.5" y1="1287.0" x2="736.9" y2="1287.0" stroke="#111" stroke-width="1.9"/>
<text transform="translate(697.2,1270.5) scale(1.04,1)" font-size="22.7" text-anchor="middle">S26A</text>
<line x1="752.6" y1="1287.0" x2="829.0" y2="1287.0" stroke="#111" stroke-width="1.9"/>
<text transform="translate(789.3,1270.5) scale(1.04,1)" font-size="22.7" text-anchor="middle">S105E</text>
<line x1="848.6" y1="1287.0" x2="925.0" y2="1287.0" stroke="#111" stroke-width="1.9"/>
<text transform="translate(885.3,1270.5) scale(1.04,1)" font-size="22.7" text-anchor="middle">S105D</text>
<line x1="944.0" y1="1287.0" x2="1020.4" y2="1287.0" stroke="#111" stroke-width="1.9"/>
<text transform="translate(980.7,1270.5) scale(1.04,1)" font-size="22.7" text-anchor="middle">S105A</text>
<text transform="translate(204.0,1313.0) scale(1.04,1)" font-size="22.7" text-anchor="middle">–</text>
<text transform="translate(251.7,1315.0) scale(1.04,1)" font-size="22.7" text-anchor="middle">+</text>
<text transform="translate(299.3,1313.0) scale(1.04,1)" font-size="22.7" text-anchor="middle">–</text>
<text transform="translate(346.9,1315.0) scale(1.04,1)" font-size="22.7" text-anchor="middle">+</text>
<text transform="translate(394.6,1313.0) scale(1.04,1)" font-size="22.7" text-anchor="middle">–</text>
<text transform="translate(442.2,1315.0) scale(1.04,1)" font-size="22.7" text-anchor="middle">+</text>
<text transform="translate(489.9,1313.0) scale(1.04,1)" font-size="22.7" text-anchor="middle">–</text>
<text transform="translate(537.5,1315.0) scale(1.04,1)" font-size="22.7" text-anchor="middle">+</text>
<text transform="translate(585.2,1313.0) scale(1.04,1)" font-size="22.7" text-anchor="middle">–</text>
<text transform="translate(632.8,1315.0) scale(1.04,1)" font-size="22.7" text-anchor="middle">+</text>
<text transform="translate(680.5,1313.0) scale(1.04,1)" font-size="22.7" text-anchor="middle">–</text>
<text transform="translate(728.1,1315.0) scale(1.04,1)" font-size="22.7" text-anchor="middle">+</text>
<text transform="translate(775.8,1313.0) scale(1.04,1)" font-size="22.7" text-anchor="middle">–</text>
<text transform="translate(823.4,1315.0) scale(1.04,1)" font-size="22.7" text-anchor="middle">+</text>
<text transform="translate(871.1,1313.0) scale(1.04,1)" font-size="22.7" text-anchor="middle">–</text>
<text transform="translate(918.8,1315.0) scale(1.04,1)" font-size="22.7" text-anchor="middle">+</text>
<text transform="translate(966.4,1313.0) scale(1.04,1)" font-size="22.7" text-anchor="middle">–</text>
<text transform="translate(1014.0,1315.0) scale(1.04,1)" font-size="22.7" text-anchor="middle">+</text>
<text transform="translate(169.5,1357.9) scale(1.04,1)" font-size="22.7" text-anchor="end">MAPK-P –</text>
<text transform="translate(169.5,1380.9) scale(1.04,1)" font-size="22.7" text-anchor="end">MAPK –</text>
<text transform="translate(152.0,1462.0) scale(1.04,1)" font-size="22.7" text-anchor="end">Histone H1</text>
<path d="M170,1434.5 H163.5 V1476 H170" fill="none" stroke="#111" stroke-width="1.9"/>
<text transform="translate(1048.5,1359.0) scale(1.04,1)" font-size="22.7">MAPK</text>
<text transform="translate(1048.5,1382.5) scale(1.04,1)" font-size="22.7">blot</text>
<text transform="translate(1048.5,1450.0) scale(1.04,1)" font-size="22.7">Cdc2</text>
<text transform="translate(1048.5,1473.5) scale(1.04,1)" font-size="22.7">activity</text>
<clipPath id="c6"><rect x="180.3" y="1328.0" width="856.9" height="72.3"/></clipPath>
<rect x="180.3" y="1328.0" width="856.9" height="72.3" fill="#e0e0e0"/>
<g clip-path="url(#c6)">
<rect x="184.2" y="1351.5" width="40.2" height="17.7" rx="8.8" fill="#000" opacity="0.7" filter="url(#b3)"/>
<rect x="241.7" y="1354.1" width="40.3" height="18.7" rx="9.3" fill="#000" opacity="0.738" filter="url(#b3)"/>
<rect x="246.1" y="1358.5" width="31.4" height="10.8" rx="5.4" fill="#000" opacity="0.558" filter="url(#b2)"/>
<rect x="289.4" y="1356.2" width="38.7" height="21.7" rx="10.8" fill="#000" opacity="0.82" filter="url(#b3)"/>
<rect x="293.9" y="1360.6" width="29.8" height="13.8" rx="6.9" fill="#000" opacity="0.62" filter="url(#b2)"/>
<rect x="338.2" y="1342.7" width="34.2" height="16.7" rx="8.3" fill="#000" opacity="0.55" filter="url(#b3)"/>
<rect x="341.1" y="1366.2" width="23.7" height="9.7" rx="4.8" fill="#000" opacity="0.15" filter="url(#b3)"/>
<rect x="383.3" y="1362.4" width="36.7" height="21.7" rx="10.8" fill="#000" opacity="0.82" filter="url(#b3)"/>
<rect x="387.8" y="1366.8" width="27.8" height="13.8" rx="6.9" fill="#000" opacity="0.62" filter="url(#b2)"/>
<rect x="431.1" y="1362.4" width="37.7" height="20.2" rx="10.1" fill="#000" opacity="0.7789999999999999" filter="url(#b3)"/>
<rect x="435.6" y="1366.8" width="28.8" height="12.3" rx="6.2" fill="#000" opacity="0.589" filter="url(#b2)"/>
<rect x="478.9" y="1361.2" width="38.7" height="22.7" rx="11.3" fill="#000" opacity="0.82" filter="url(#b3)"/>
<rect x="483.4" y="1365.7" width="29.8" height="14.8" rx="7.4" fill="#000" opacity="0.62" filter="url(#b2)"/>
<rect x="526.4" y="1363.7" width="36.7" height="18.7" rx="9.3" fill="#000" opacity="0.7789999999999999" filter="url(#b3)"/>
<rect x="530.8" y="1368.1" width="27.8" height="10.8" rx="5.4" fill="#000" opacity="0.589" filter="url(#b2)"/>
<rect x="532.1" y="1346.9" width="28.7" height="14.7" rx="7.3" fill="#000" opacity="0.25" filter="url(#b3)"/>
<rect x="571.6" y="1363.6" width="38.7" height="21.7" rx="10.8" fill="#000" opacity="0.82" filter="url(#b3)"/>
<rect x="576.1" y="1368.0" width="29.8" height="13.8" rx="6.9" fill="#000" opacity="0.62" filter="url(#b2)"/>
<rect x="619.1" y="1347.7" width="32.7" height="14.2" rx="7.1" fill="#000" opacity="0.65" filter="url(#b3)"/>
<rect x="620.1" y="1369.8" width="30.7" height="11.7" rx="5.8" fill="#000" opacity="0.7" filter="url(#b3)"/>
<rect x="663.1" y="1367.5" width="35.4" height="18.7" rx="9.3" fill="#000" opacity="0.82" filter="url(#b3)"/>
<rect x="667.5" y="1371.9" width="26.5" height="10.8" rx="5.4" fill="#000" opacity="0.62" filter="url(#b2)"/>
<rect x="703.4" y="1369.9" width="34.2" height="12.7" rx="6.3" fill="#000" opacity="0.8" filter="url(#b3)"/>
<rect x="710.1" y="1351.6" width="26.7" height="12.7" rx="6.3" fill="#000" opacity="0.2" filter="url(#b3)"/>
<rect x="752.2" y="1368.5" width="36.7" height="16.7" rx="8.3" fill="#000" opacity="0.7789999999999999" filter="url(#b3)"/>
<rect x="756.7" y="1372.9" width="27.8" height="8.8" rx="4.4" fill="#000" opacity="0.589" filter="url(#b2)"/>
<rect x="799.9" y="1369.7" width="31.7" height="14.2" rx="7.1" fill="#000" opacity="0.8" filter="url(#b3)"/>
<rect x="842.7" y="1367.2" width="35.4" height="17.7" rx="8.8" fill="#000" opacity="0.7789999999999999" filter="url(#b3)"/>
<rect x="847.1" y="1371.6" width="26.5" height="9.8" rx="4.9" fill="#000" opacity="0.589" filter="url(#b2)"/>
<rect x="890.4" y="1365.0" width="36.7" height="17.7" rx="8.8" fill="#000" opacity="0.7789999999999999" filter="url(#b3)"/>
<rect x="894.8" y="1369.4" width="27.8" height="9.8" rx="4.9" fill="#000" opacity="0.589" filter="url(#b2)"/>
<rect x="940.6" y="1362.7" width="38.7" height="18.7" rx="9.3" fill="#000" opacity="0.82" filter="url(#b3)"/>
<rect x="945.1" y="1367.1" width="29.8" height="10.8" rx="5.4" fill="#000" opacity="0.62" filter="url(#b2)"/>
<rect x="988.1" y="1339.2" width="42.7" height="16.7" rx="8.3" fill="#000" opacity="0.7789999999999999" filter="url(#b3)"/>
<rect x="992.6" y="1343.6" width="33.8" height="8.8" rx="4.4" fill="#000" opacity="0.589" filter="url(#b2)"/>
<rect x="990.6" y="1360.0" width="38.7" height="15.4" rx="7.7" fill="#000" opacity="0.7" filter="url(#b3)"/>
</g>
<rect x="180.3" y="1328.0" width="856.9" height="72.3" fill="none" stroke="#111" stroke-width="1.8"/>
<clipPath id="c7"><rect x="180.3" y="1413.0" width="856.9" height="86.7"/></clipPath>
<rect x="180.3" y="1413.0" width="856.9" height="86.7" fill="#dcdcdc"/>
<g clip-path="url(#c7)">
<rect x="188.2" y="1450.7" width="39.6" height="7.6" rx="3.8" fill="#000" opacity="0.1" filter="url(#b4)"/>
<rect x="188.2" y="1466.2" width="39.6" height="5.6" rx="2.8" fill="#000" opacity="0.09" filter="url(#b4)"/>
<rect x="283.5" y="1450.7" width="39.6" height="7.6" rx="3.8" fill="#000" opacity="0.1" filter="url(#b4)"/>
<rect x="283.5" y="1466.2" width="39.6" height="5.6" rx="2.8" fill="#000" opacity="0.09" filter="url(#b4)"/>
<rect x="378.8" y="1450.7" width="39.6" height="7.6" rx="3.8" fill="#000" opacity="0.1" filter="url(#b4)"/>
<rect x="378.8" y="1466.2" width="39.6" height="5.6" rx="2.8" fill="#000" opacity="0.09" filter="url(#b4)"/>
<rect x="474.1" y="1450.7" width="39.6" height="7.6" rx="3.8" fill="#000" opacity="0.1" filter="url(#b4)"/>
<rect x="474.1" y="1466.2" width="39.6" height="5.6" rx="2.8" fill="#000" opacity="0.09" filter="url(#b4)"/>
<rect x="569.4" y="1450.7" width="39.6" height="7.6" rx="3.8" fill="#000" opacity="0.1" filter="url(#b4)"/>
<rect x="569.4" y="1466.2" width="39.6" height="5.6" rx="2.8" fill="#000" opacity="0.09" filter="url(#b4)"/>
<rect x="664.7" y="1450.7" width="39.6" height="7.6" rx="3.8" fill="#000" opacity="0.1" filter="url(#b4)"/>
<rect x="664.7" y="1466.2" width="39.6" height="5.6" rx="2.8" fill="#000" opacity="0.09" filter="url(#b4)"/>
<rect x="760.0" y="1450.7" width="39.6" height="7.6" rx="3.8" fill="#000" opacity="0.1" filter="url(#b4)"/>
<rect x="760.0" y="1466.2" width="39.6" height="5.6" rx="2.8" fill="#000" opacity="0.09" filter="url(#b4)"/>
<rect x="855.3" y="1450.7" width="39.6" height="7.6" rx="3.8" fill="#000" opacity="0.1" filter="url(#b4)"/>
<rect x="855.3" y="1466.2" width="39.6" height="5.6" rx="2.8" fill="#000" opacity="0.09" filter="url(#b4)"/>
<rect x="950.6" y="1450.7" width="39.6" height="7.6" rx="3.8" fill="#000" opacity="0.1" filter="url(#b4)"/>
<rect x="950.6" y="1466.2" width="39.6" height="5.6" rx="2.8" fill="#000" opacity="0.09" filter="url(#b4)"/>
<rect x="226.9" y="1397.4" width="46.2" height="111.2" rx="10.0" fill="#000" opacity="0.07" filter="url(#b8)"/>
<rect x="226.8" y="1425.8" width="46.5" height="54.5" rx="13.0" fill="#000" opacity="0.8" filter="url(#b5)"/>
<rect x="232.7" y="1433.7" width="34.6" height="38.6" rx="10.0" fill="#000" opacity="0.75" filter="url(#b4)"/>
<rect x="330.8" y="1397.4" width="45.2" height="111.2" rx="10.0" fill="#000" opacity="0.07" filter="url(#b8)"/>
<rect x="330.6" y="1423.2" width="45.5" height="59.5" rx="13.0" fill="#000" opacity="0.8" filter="url(#b5)"/>
<rect x="336.6" y="1431.2" width="33.6" height="43.6" rx="10.0" fill="#000" opacity="0.75" filter="url(#b4)"/>
<rect x="424.9" y="1398.4" width="42.7" height="111.2" rx="10.0" fill="#000" opacity="0.07" filter="url(#b8)"/>
<rect x="424.8" y="1426.0" width="43.0" height="56.0" rx="13.0" fill="#000" opacity="0.8" filter="url(#b5)"/>
<rect x="430.8" y="1434.0" width="31.1" height="40.1" rx="10.0" fill="#000" opacity="0.75" filter="url(#b4)"/>
<rect x="519.0" y="1397.4" width="42.7" height="111.2" rx="10.0" fill="#000" opacity="0.07" filter="url(#b8)"/>
<rect x="518.9" y="1425.8" width="43.0" height="54.5" rx="13.0" fill="#000" opacity="0.8" filter="url(#b5)"/>
<rect x="524.9" y="1433.7" width="31.1" height="38.6" rx="10.0" fill="#000" opacity="0.75" filter="url(#b4)"/>
<rect x="611.9" y="1398.8" width="41.2" height="111.2" rx="10.0" fill="#000" opacity="0.07" filter="url(#b8)"/>
<rect x="611.8" y="1428.2" width="41.5" height="52.5" rx="13.0" fill="#000" opacity="0.8" filter="url(#b5)"/>
<rect x="617.7" y="1436.1" width="29.6" height="36.6" rx="10.0" fill="#000" opacity="0.75" filter="url(#b4)"/>
<rect x="705.9" y="1398.8" width="40.2" height="111.2" rx="10.0" fill="#000" opacity="0.07" filter="url(#b8)"/>
<rect x="705.8" y="1428.2" width="40.5" height="52.5" rx="13.0" fill="#000" opacity="0.8" filter="url(#b5)"/>
<rect x="711.7" y="1436.1" width="28.6" height="36.6" rx="10.0" fill="#000" opacity="0.75" filter="url(#b4)"/>
<rect x="793.9" y="1398.2" width="41.5" height="111.2" rx="10.0" fill="#000" opacity="0.07" filter="url(#b8)"/>
<rect x="793.7" y="1428.0" width="41.8" height="51.5" rx="13.0" fill="#000" opacity="0.8" filter="url(#b5)"/>
<rect x="799.6" y="1436.0" width="29.9" height="35.6" rx="10.0" fill="#000" opacity="0.75" filter="url(#b4)"/>
<rect x="886.9" y="1393.4" width="46.2" height="111.2" rx="10.0" fill="#000" opacity="0.07" filter="url(#b8)"/>
<rect x="886.8" y="1419.8" width="46.5" height="58.5" rx="13.0" fill="#000" opacity="0.8" filter="url(#b5)"/>
<rect x="892.7" y="1427.7" width="34.6" height="42.6" rx="10.0" fill="#000" opacity="0.75" filter="url(#b4)"/>
<rect x="989.3" y="1390.3" width="44.2" height="111.2" rx="10.0" fill="#000" opacity="0.07" filter="url(#b8)"/>
<rect x="989.1" y="1419.7" width="44.5" height="52.5" rx="13.0" fill="#000" opacity="0.8" filter="url(#b5)"/>
<rect x="995.1" y="1427.6" width="32.6" height="36.6" rx="10.0" fill="#000" opacity="0.75" filter="url(#b4)"/>
</g>
<rect x="180.3" y="1413.0" width="856.9" height="86.7" fill="none" stroke="#111" stroke-width="1.8"/>
<text transform="translate(1085.1,724.9) scale(.95,1)" font-size="30.9" font-weight="bold" stroke="#0a0a0a" stroke-width="2.0" stroke-linejoin="round">D</text>
<text transform="translate(1223.5,798.5) scale(1.04,1)" font-size="22.7" text-anchor="end">GST-Mos:</text>
<text transform="translate(1223.5,840.5) scale(1.04,1)" font-size="22.7" text-anchor="end"><tspan font-size="20.5">Δ</tspan>90-cyclin B:</text>
<line x1="1245.9" y1="813.0" x2="1322.2" y2="813.0" stroke="#111" stroke-width="1.9"/>
<line x1="1343.7" y1="813.0" x2="1420.0" y2="813.0" stroke="#111" stroke-width="1.9"/>
<line x1="1441.2" y1="813.0" x2="1517.5" y2="813.0" stroke="#111" stroke-width="1.9"/>
<line x1="1539.0" y1="813.0" x2="1615.3" y2="813.0" stroke="#111" stroke-width="1.9"/>
<line x1="1636.9" y1="813.0" x2="1713.2" y2="813.0" stroke="#111" stroke-width="1.9"/>
<text transform="translate(1282.0,798.5) scale(1.04,1)" font-size="22.7" text-anchor="middle">WT</text>
<text transform="translate(1345.2,774.9) scale(1.04,1)" font-size="22.7">S3A/</text>
<text transform="translate(1345.2,798.5) scale(1.04,1)" font-size="22.7">S105E</text>
<text transform="translate(1442.7,774.9) scale(1.04,1)" font-size="22.7">S3E/</text>
<text transform="translate(1442.7,798.5) scale(1.04,1)" font-size="22.7">S105A</text>
<text transform="translate(1540.5,727.7) scale(1.04,1)" font-size="22.7">S3A/</text>
<text transform="translate(1540.5,751.3) scale(1.04,1)" font-size="22.7">S16A/</text>
<text transform="translate(1540.5,774.9) scale(1.04,1)" font-size="22.7">S26A/</text>
<text transform="translate(1540.5,798.5) scale(1.04,1)" font-size="22.7">S105E</text>
<text transform="translate(1638.4,727.7) scale(1.04,1)" font-size="22.7">S3E/</text>
<text transform="translate(1638.4,751.3) scale(1.04,1)" font-size="22.7">S16E/</text>
<text transform="translate(1638.4,774.9) scale(1.04,1)" font-size="22.7">S26E/</text>
<text transform="translate(1638.4,798.5) scale(1.04,1)" font-size="22.7">S105A</text>
<text transform="translate(1264.4,840.2) scale(1.04,1)" font-size="22.7" text-anchor="middle">–</text>
<text transform="translate(1312.9,842.2) scale(1.04,1)" font-size="22.7" text-anchor="middle">+</text>
<text transform="translate(1361.4,840.2) scale(1.04,1)" font-size="22.7" text-anchor="middle">–</text>
<text transform="translate(1410.0,842.2) scale(1.04,1)" font-size="22.7" text-anchor="middle">+</text>
<text transform="translate(1458.5,840.2) scale(1.04,1)" font-size="22.7" text-anchor="middle">–</text>
<text transform="translate(1507.0,842.2) scale(1.04,1)" font-size="22.7" text-anchor="middle">+</text>
<text transform="translate(1555.5,840.2) scale(1.04,1)" font-size="22.7" text-anchor="middle">–</text>
<text transform="translate(1604.0,842.2) scale(1.04,1)" font-size="22.7" text-anchor="middle">+</text>
<text transform="translate(1652.6,840.2) scale(1.04,1)" font-size="22.7" text-anchor="middle">–</text>
<text transform="translate(1701.1,842.2) scale(1.04,1)" font-size="22.7" text-anchor="middle">+</text>
<text transform="translate(1207.0,886.0) scale(1.04,1)" font-size="22.7" text-anchor="end">p-GST-</text>
<text transform="translate(1205.0,909.0) scale(0.985,1)" font-size="22.7" text-anchor="end">MEK1</text>
<text transform="translate(1220.5,897.5) scale(1.04,1)" font-size="22.7" text-anchor="middle">–</text>
<text transform="translate(1228.0,988.5) scale(1.04,1)" font-size="22.7" text-anchor="end">GST-Mos –</text>
<text transform="translate(1731.5,871.5) scale(1.04,1)" font-size="22.7">Mos</text>
<text transform="translate(1731.5,895.0) scale(1.04,1)" font-size="22.7">kinase</text>
<text transform="translate(1731.5,918.5) scale(1.04,1)" font-size="22.7">assay</text>
<text transform="translate(1731.5,977.0) scale(1.04,1)" font-size="22.7">Mos</text>
<text transform="translate(1731.5,1000.5) scale(1.04,1)" font-size="22.7">blot</text>
<clipPath id="c8"><rect x="1242.6" y="851.8" width="476.2" height="73.5"/></clipPath>
<rect x="1242.6" y="851.8" width="476.2" height="73.5" fill="#e9e9e9"/>
<g clip-path="url(#c8)">
<rect x="1247.0" y="883.4" width="34.7" height="13.3" rx="6.7" fill="#000" opacity="0.45" filter="url(#b3)"/>
<rect x="1296.2" y="880.6" width="35.7" height="18.7" rx="9.3" fill="#000" opacity="0.7224999999999999" filter="url(#b3)"/>
<rect x="1302.2" y="886.1" width="23.7" height="8.7" rx="4.3" fill="#000" opacity="0.51" filter="url(#b3)"/>
<rect x="1400.7" y="886.1" width="22.7" height="7.7" rx="3.8" fill="#000" opacity="0.05" filter="url(#b3)"/>
<rect x="1448.3" y="883.2" width="29.3" height="14.7" rx="7.3" fill="#000" opacity="0.6" filter="url(#b3)"/>
<rect x="1493.4" y="878.1" width="34.7" height="19.7" rx="9.8" fill="#000" opacity="0.765" filter="url(#b3)"/>
<rect x="1499.4" y="883.6" width="22.7" height="9.7" rx="4.8" fill="#000" opacity="0.54" filter="url(#b3)"/>
<rect x="1593.7" y="882.1" width="22.7" height="7.7" rx="3.8" fill="#000" opacity="0.05" filter="url(#b3)"/>
<rect x="1633.3" y="876.6" width="33.4" height="19.7" rx="9.8" fill="#000" opacity="0.7224999999999999" filter="url(#b3)"/>
<rect x="1639.3" y="882.1" width="21.4" height="9.7" rx="4.8" fill="#000" opacity="0.51" filter="url(#b3)"/>
<rect x="1679.7" y="875.1" width="37.7" height="25.7" rx="12.8" fill="#000" opacity="0.85" filter="url(#b3)"/>
<rect x="1685.7" y="880.6" width="25.7" height="15.7" rx="7.8" fill="#000" opacity="0.6" filter="url(#b3)"/>
<rect x="1249.7" y="886.1" width="10.7" height="6.7" rx="3.3" fill="#000" opacity="0.35" filter="url(#b3)"/>
</g>
<rect x="1242.6" y="851.8" width="476.2" height="73.5" fill="none" stroke="#3a3a3a" stroke-width="1.3"/>
<clipPath id="c9"><rect x="1242.6" y="935.4" width="476.2" height="95.3"/></clipPath>
<rect x="1242.6" y="935.4" width="476.2" height="95.3" fill="#ececec"/>
<g clip-path="url(#c9)">
<rect x="1260.0" y="957.8" width="15.4" height="10.5" rx="5.2" fill="#000" opacity="0.09" filter="url(#b5)"/>
<rect x="1249.1" y="970.0" width="37.2" height="18.1" rx="9.0" fill="#000" opacity="1" filter="url(#b3)"/>
<rect x="1251.1" y="971.5" width="33.2" height="15.1" rx="7.5" fill="#000" opacity="1" filter="url(#b2)"/>
<rect x="1309.0" y="955.8" width="15.4" height="10.5" rx="5.2" fill="#000" opacity="0.09" filter="url(#b5)"/>
<rect x="1298.1" y="965.9" width="37.2" height="22.2" rx="9.0" fill="#000" opacity="1" filter="url(#b3)"/>
<rect x="1300.1" y="967.4" width="33.2" height="19.2" rx="7.5" fill="#000" opacity="1" filter="url(#b2)"/>
<rect x="1363.3" y="958.5" width="15.4" height="10.5" rx="5.2" fill="#000" opacity="0.09" filter="url(#b5)"/>
<rect x="1352.4" y="971.4" width="37.2" height="16.7" rx="8.3" fill="#000" opacity="1" filter="url(#b3)"/>
<rect x="1354.4" y="972.9" width="33.2" height="13.7" rx="6.8" fill="#000" opacity="1" filter="url(#b2)"/>
<rect x="1408.6" y="956.5" width="16.2" height="10.5" rx="5.2" fill="#000" opacity="0.09" filter="url(#b5)"/>
<rect x="1397.4" y="967.4" width="38.7" height="20.7" rx="9.0" fill="#000" opacity="1" filter="url(#b3)"/>
<rect x="1399.4" y="968.9" width="34.7" height="17.7" rx="7.5" fill="#000" opacity="1" filter="url(#b2)"/>
<rect x="1458.9" y="957.8" width="16.2" height="10.5" rx="5.2" fill="#000" opacity="0.09" filter="url(#b5)"/>
<rect x="1447.7" y="970.0" width="38.7" height="18.1" rx="9.0" fill="#000" opacity="1" filter="url(#b3)"/>
<rect x="1449.7" y="971.5" width="34.7" height="15.1" rx="7.5" fill="#000" opacity="1" filter="url(#b2)"/>
<rect x="1506.0" y="955.8" width="14.7" height="10.5" rx="5.2" fill="#000" opacity="0.09" filter="url(#b5)"/>
<rect x="1495.4" y="965.9" width="36.0" height="22.2" rx="9.0" fill="#000" opacity="1" filter="url(#b3)"/>
<rect x="1497.4" y="967.4" width="32.0" height="19.2" rx="7.5" fill="#000" opacity="1" filter="url(#b2)"/>
<rect x="1554.9" y="959.8" width="17.6" height="10.5" rx="5.2" fill="#000" opacity="0.09" filter="url(#b5)"/>
<rect x="1543.1" y="968.6" width="41.2" height="24.7" rx="9.0" fill="#000" opacity="1" filter="url(#b3)"/>
<rect x="1545.1" y="970.1" width="37.2" height="21.7" rx="7.5" fill="#000" opacity="1" filter="url(#b2)"/>
<rect x="1603.3" y="958.5" width="16.2" height="10.5" rx="5.2" fill="#000" opacity="0.09" filter="url(#b5)"/>
<rect x="1592.1" y="965.9" width="38.7" height="27.7" rx="9.0" fill="#000" opacity="1" filter="url(#b3)"/>
<rect x="1594.1" y="967.4" width="34.7" height="24.7" rx="7.5" fill="#000" opacity="1" filter="url(#b2)"/>
<rect x="1648.2" y="959.8" width="16.2" height="10.5" rx="5.2" fill="#000" opacity="0.09" filter="url(#b5)"/>
<rect x="1637.0" y="971.1" width="38.7" height="19.7" rx="9.0" fill="#000" opacity="1" filter="url(#b3)"/>
<rect x="1639.0" y="972.6" width="34.7" height="16.7" rx="7.5" fill="#000" opacity="1" filter="url(#b2)"/>
<rect x="1690.8" y="957.8" width="14.0" height="10.5" rx="5.2" fill="#000" opacity="0.09" filter="url(#b5)"/>
<rect x="1680.5" y="965.9" width="34.6" height="26.3" rx="9.0" fill="#000" opacity="1" filter="url(#b3)"/>
<rect x="1682.5" y="967.4" width="30.6" height="23.3" rx="7.5" fill="#000" opacity="1" filter="url(#b2)"/>
</g>
<rect x="1242.6" y="935.4" width="476.2" height="95.3" fill="none" stroke="#3a3a3a" stroke-width="1.3"/>
<line x1="1241.2" y1="1056.4" x2="1241.2" y2="1342.6" stroke="#111" stroke-width="2.0"/>
<line x1="1232.0" y1="1057.3" x2="1241.2" y2="1057.3" stroke="#111" stroke-width="2.0"/>
<text transform="translate(1219.5,1064.7) scale(1.04,1)" font-size="22.7" text-anchor="end">3</text>
<line x1="1232.0" y1="1152.2" x2="1241.2" y2="1152.2" stroke="#111" stroke-width="2.0"/>
<text transform="translate(1219.5,1159.6) scale(1.04,1)" font-size="22.7" text-anchor="end">2</text>
<line x1="1232.0" y1="1246.8" x2="1241.2" y2="1246.8" stroke="#111" stroke-width="2.0"/>
<text transform="translate(1219.5,1254.2) scale(1.04,1)" font-size="22.7" text-anchor="end">1</text>
<line x1="1232.0" y1="1341.7" x2="1241.2" y2="1341.7" stroke="#111" stroke-width="2.0"/>
<rect x="1250.9" y="1246.8" width="40.1" height="94.9" fill="#d2d2d2" stroke="#111" stroke-width="1.9"/>
<line x1="1318.0" y1="1139.8" x2="1318.0" y2="1167.0" stroke="#111" stroke-width="1.9"/>
<line x1="1310.2" y1="1139.8" x2="1325.8" y2="1139.8" stroke="#111" stroke-width="1.9"/>
<rect x="1298.0" y="1167.0" width="40.0" height="174.7" fill="#d2d2d2" stroke="#111" stroke-width="1.9"/>
<rect x="1344.3" y="1338.2" width="40.4" height="3.5" fill="#d2d2d2" stroke="#111" stroke-width="1.9"/>
<line x1="1411.2" y1="1333.5" x2="1411.2" y2="1337.4" stroke="#111" stroke-width="1.9"/>
<line x1="1403.4" y1="1333.5" x2="1419.0" y2="1333.5" stroke="#111" stroke-width="1.9"/>
<rect x="1391.0" y="1337.4" width="40.4" height="4.3" fill="#d2d2d2" stroke="#111" stroke-width="1.9"/>
<line x1="1457.8" y1="1193.9" x2="1457.8" y2="1218.0" stroke="#111" stroke-width="1.9"/>
<line x1="1450.0" y1="1193.9" x2="1465.6" y2="1193.9" stroke="#111" stroke-width="1.9"/>
<rect x="1437.6" y="1218.0" width="40.4" height="123.7" fill="#d2d2d2" stroke="#111" stroke-width="1.9"/>
<line x1="1504.7" y1="1092.7" x2="1504.7" y2="1120.0" stroke="#111" stroke-width="1.9"/>
<line x1="1496.9" y1="1092.7" x2="1512.5" y2="1092.7" stroke="#111" stroke-width="1.9"/>
<rect x="1484.7" y="1120.0" width="40.0" height="221.7" fill="#d2d2d2" stroke="#111" stroke-width="1.9"/>
<rect x="1531.3" y="1338.2" width="40.1" height="3.5" fill="#d2d2d2" stroke="#111" stroke-width="1.9"/>
<rect x="1578.0" y="1338.2" width="40.5" height="3.5" fill="#d2d2d2" stroke="#111" stroke-width="1.9"/>
<line x1="1646.5" y1="1140.6" x2="1646.5" y2="1167.0" stroke="#111" stroke-width="1.9"/>
<line x1="1638.7" y1="1140.6" x2="1654.2" y2="1140.6" stroke="#111" stroke-width="1.9"/>
<rect x="1625.0" y="1167.0" width="42.9" height="174.7" fill="#d2d2d2" stroke="#111" stroke-width="1.9"/>
<line x1="1696.0" y1="1038.3" x2="1696.0" y2="1068.6" stroke="#111" stroke-width="1.9"/>
<line x1="1688.2" y1="1038.3" x2="1703.8" y2="1038.3" stroke="#111" stroke-width="1.9"/>
<rect x="1674.5" y="1068.6" width="43.1" height="273.1" fill="#d2d2d2" stroke="#111" stroke-width="1.9"/>
<text transform="translate(1158.0,1198.0) rotate(-90) scale(1.04,1)" font-size="22.7" text-anchor="middle">Mos activity</text>
<text transform="translate(1182.0,1200.0) rotate(-90) scale(1.04,1)" font-size="22.7" text-anchor="middle">(fold)</text>
</svg>
</body></html>
